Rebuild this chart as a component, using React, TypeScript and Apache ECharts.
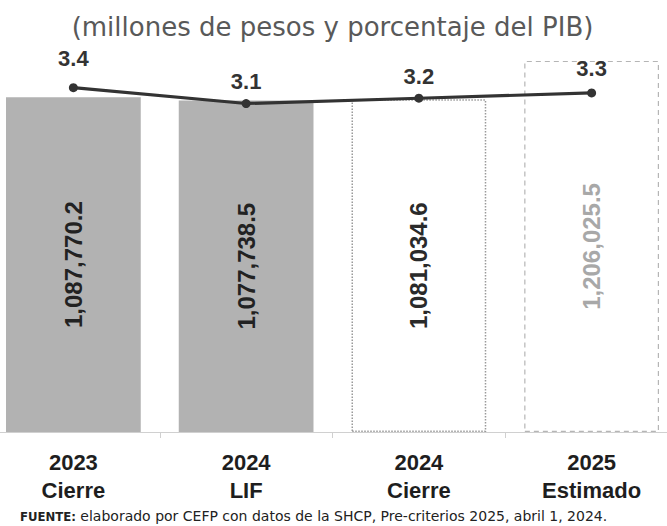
import React, { useEffect, useRef } from "react";
import * as echarts from "echarts";

const categories = ["2023\nCierre", "2024\nLIF", "2024\nCierre", "2025\nEstimado"];
const amounts = [1087770.2, 1077738.5, 1081034.6, 1206025.5];
const pibPct = [3.4, 3.1, 3.2, 3.3];
const titleText = "(millones de pesos y porcentaje del PIB)";
const sourceLabel = "FUENTE:";
const sourceText = " elaborado por CEFP con datos de la SHCP, Pre-criterios 2025, abril 1, 2024.";

const barStyles = [
  { color: "#b2b2b2", borderWidth: 0, labelColor: "#222" },
  { color: "#b2b2b2", borderWidth: 0, labelColor: "#222" },
  { color: "#ffffff", borderWidth: 1.5, borderColor: "#9a9a9a", borderType: "dotted", labelColor: "#2a2a2a" },
  { color: "#ffffff", borderWidth: 1.2, borderColor: "#b5b5b5", borderType: [5, 4], labelColor: "#a8a8a8" },
];
const lineLabelDistance = [14, 7, 6, 9];

const SHIFT_LEFT = 13;
const EXTRA_RIGHT = 11;

const fmt = (v: number) =>
  v.toLocaleString("en-US", { minimumFractionDigits: 1, maximumFractionDigits: 1 });

export default function App() {
  const ref = useRef<HTMLDivElement>(null);
  useEffect(() => {
    if (!ref.current) return;
    const chart = echarts.init(ref.current, null, { renderer: "svg" });
    chart.setOption({
      animation: false,
      backgroundColor: "#ffffff",
      title: {
        text: titleText,
        left: "center",
        top: 9,
        textStyle: {
          fontFamily: "DejaVu Sans",
          fontWeight: "normal",
          fontSize: 26,
          color: "#595959",
        },
      },
      grid: { left: 0, right: 0, top: 32, bottom: 94, containLabel: false },
      xAxis: {
        type: "category",
        data: categories,
        boundaryGap: true,
        axisLine: { show: true, lineStyle: { color: "#d0d0d0", width: 1 } },
        axisTick: { show: true, length: 6, lineStyle: { color: "#d0d0d0" } },
        axisLabel: {
          margin: 16,
          fontFamily: "Liberation Sans",
          fontWeight: "bold",
          fontSize: 22,
          lineHeight: 28,
          color: "#1e1e1e",
        },
      },
      yAxis: [
        { type: "value", min: 0, max: 1300000, show: false, splitLine: { show: false } },
        { type: "value", min: -3.1, max: 4.45, show: false, splitLine: { show: false } },
      ],
      series: [
        {
          type: "bar",
          yAxisIndex: 0,
          barWidth: "78%",
          z: 2,
          data: amounts.map((v, i) => {
            const s = barStyles[i];
            return {
              value: v,
              itemStyle: {
                color: s.color,
                borderWidth: s.borderWidth,
                borderColor: s.borderColor,
                borderType: s.borderType,
              },
              label: { color: s.labelColor },
            };
          }),
          label: {
            show: true,
            position: "inside",
            rotate: 90,
            fontFamily: "Liberation Sans",
            fontWeight: "bold",
            fontSize: 24,
            formatter: (p: any) => fmt(p.value),
          },
        },
        {
          type: "line",
          yAxisIndex: 1,
          z: 5,
          data: pibPct.map((v, i) => ({
            value: v,
            label: { distance: lineLabelDistance[i] },
          })),
          symbol: "circle",
          symbolSize: 9,
          lineStyle: { color: "#333333", width: 3.2 },
          itemStyle: { color: "#333333" },
          label: {
            show: true,
            position: "top",
            fontFamily: "Liberation Sans",
            fontWeight: "bold",
            fontSize: 22,
            color: "#333333",
            formatter: (p: any) => p.value.toFixed(1),
          },
        },
      ],
      graphic: [
        {
          type: "text",
          left: 20 + SHIFT_LEFT,
          top: 509,
          style: {
            text: "{b|" + sourceLabel + "}{n|" + sourceText + "}",
            rich: {
              b: { fontFamily: "DejaVu Sans Condensed, DejaVu Sans", fontWeight: "bold", fontSize: 13, fill: "#222" },
              n: { fontFamily: "DejaVu Sans", fontSize: 14, fill: "#222" },
            },
          },
        },
      ],
    });
    return () => chart.dispose();
  }, []);
  return (
    <div style={{ position: "absolute", left: 0, top: 0, width: 667, height: 526, overflow: "hidden" }}>
      <div
        ref={ref}
        style={{ position: "absolute", left: -SHIFT_LEFT, top: 0, width: 667 + SHIFT_LEFT + EXTRA_RIGHT, height: 526 }}
      />
    </div>
  );
}
